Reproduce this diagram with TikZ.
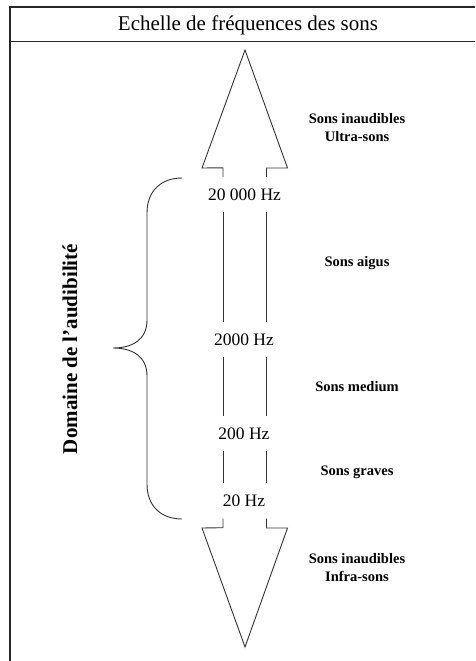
\documentclass[tikz,border=0pt]{standalone}
\usepackage{fontspec}
\setmainfont{Liberation Serif}
\begin{document}
\begin{tikzpicture}[x=1pt,y=-1pt,
  framelines/.style={line width=1.3pt,draw=black!85},
  outlinepath/.style={line width=0.9pt,draw=black!80,line join=miter},
  freqlabel/.style={font=\fontsize{17.5}{20}\selectfont,inner sep=0pt,minimum height=35pt,text depth=0pt},
  zonelabel/.style={font=\bfseries\fontsize{14.5}{18}\selectfont,align=center,inner sep=1pt},
  titletext/.style={font=\fontsize{21}{24}\selectfont,inner sep=0pt},
  domlabel/.style={font=\bfseries\fontsize{21}{24}\selectfont,rotate=90,inner sep=0pt}]
\useasboundingbox (0,0) rectangle (475,661);
% frame
\draw[framelines] (475,7) -- (10,7) -- (10,661);
\draw[framelines] (10,41.5) -- (475,41.5);
\node[titletext] (ttl) at (248,25) {Echelle de fréquences des sons};
% shaft x positions
\coordinate (xl) at (223,0);
\coordinate (xr) at (266.5,0);
% frequency labels
\node[freqlabel] (f20k) at (244.5,194.5) {20 000 Hz};
\node[freqlabel] (f2k)  at (244,339.5) {2000 Hz};
\node[freqlabel] (f200) at (244,433.5) {200 Hz};
\node[freqlabel] (f20)  at (244,501)   {20 Hz};
% top arrowhead
\coordinate (ttip) at (245,50);
\draw[outlinepath] (f20k.north -| xl) -- ++(0,-9) -- (202,168) -- (ttip) -- (287.5,168) -- (266.5,168) -- (f20k.north -| xr);
% bottom arrowhead
\coordinate (btip) at (245,647);
\draw[outlinepath] (f20.south -| xl) -- ++(0,9) -- (202,528) -- (btip) -- (287.5,528) -- (266.5,528) -- (f20.south -| xr);
% shaft
\foreach \a/\b in {f20k/f2k,f2k/f200,f200/f20}{
  \draw[outlinepath] (\a.south -| xl) -- (\b.north -| xl);
  \draw[outlinepath] (\a.south -| xr) -- (\b.north -| xr);
}
% brace
\coordinate (btop) at (182,178);
\coordinate (bbot) at (182,519);
\coordinate (bmid) at (113,348);
\draw[outlinepath] (btop) .. controls (161,178) and (147,191) .. (147,213)
  -- (147,320) .. controls (147,340) and (132,348) .. (bmid)
  .. controls (132,348) and (147,356) .. (147,376)
  -- (147,484) .. controls (147,506) and (161,519) .. (bbot);
\node[domlabel] (dom) at (70,349) {Domaine de l’audibilité};
% zone labels
\node[zonelabel] (ultra) at (357,128) {Sons inaudibles\\Ultra-sons};
\node[zonelabel] (aigus) at (357,263) {Sons aigus};
\node[zonelabel] (medium) at (357,387) {Sons medium};
\node[zonelabel] (graves) at (357,472) {Sons graves};
\node[zonelabel] (infra) at (357,567.5) {Sons inaudibles\\Infra-sons};
\end{tikzpicture}
\end{document}
